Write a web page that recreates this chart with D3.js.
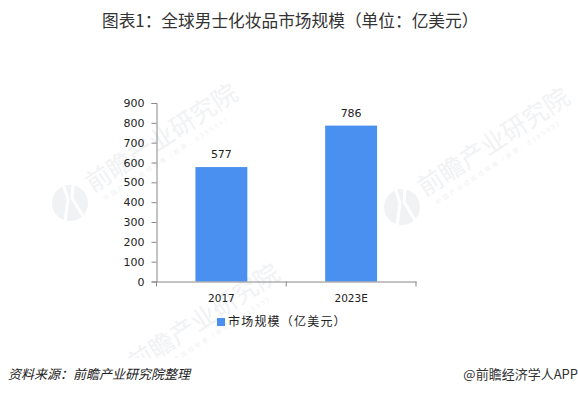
<!DOCTYPE html>
<html>
<head>
<meta charset="utf-8">
<script src="https://cdn.jsdelivr.net/npm/d3@7"></script>
<style>
    html, body { margin: 0; padding: 0; background: #fff; }
    svg { display: block; }
    text { font-family: "Noto Sans CJK SC", "DejaVu Sans", sans-serif; }
</style>
</head>
<body>
<div id="myPlot"></div>
<script>
const categories = ["2017", "2023E"];
const values = [577, 786];
const yTicks = [0, 100, 200, 300, 400, 500, 600, 700, 800, 900];
const titleText = "图表1：全球男士化妆品市场规模（单位：亿美元）";
const legendText = "市场规模（亿美元）";
const sourceText = "资料来源：前瞻产业研究院整理";
const brandText = "@前瞻经济学人APP";
const watermarkText = "前瞻产业研究院";
const watermarkSub = "中国产业咨询领导者（股票：839599）";

const width = 578;
const height = 395;
const margin = { top: 103, right: 162, bottom: 113.5, left: 156.5 };
const barColor = "#4a90f0";
const textColor = "#222";
const markColor = "#f0f2f4";

const svg = d3.select("#myPlot")
    .append("svg")
    .attr("width", width)
    .attr("height", height);

// Watermarks sit behind the chart, each one anchored on its logo centre
const marks = [
    { x: 70, y: 203 },
    { x: 402, y: 207 },
    { x: 112, y: 383 }
];
marks.forEach(m => {
    const g = svg.append("g").attr("transform", "translate(" + m.x + "," + m.y + ")");
    g.append("circle").attr("r", 18).attr("fill", markColor);
    // white cuts of the logo
    g.append("path")
        .attr("d", "M-7,-19 L-2,-4 L-5,19 M3,-19 L2,-5 L13,13")
        .attr("fill", "none")
        .attr("stroke", "#fff")
        .attr("stroke-width", 3);
    const t = g.append("g").attr("transform", "translate(23,-10) rotate(-33)");
    t.append("text")
        .attr("font-size", 25)
        .attr("fill", markColor)
        .text(watermarkText);
    t.append("text")
        .attr("x", 6)
        .attr("y", 13)
        .attr("font-size", 6)
        .attr("letter-spacing", 2.4)
        .attr("fill", markColor)
        .text(watermarkSub);
});

// Footer band hides the lower watermark
svg.append("rect")
    .attr("x", 0)
    .attr("y", 358)
    .attr("width", width)
    .attr("height", height - 358)
    .attr("fill", "#fff");

const plot = svg.append("g")
    .attr("transform", "translate(" + margin.left + "," + margin.top + ")");
const innerW = width - margin.left - margin.right;
const innerH = height - margin.top - margin.bottom;

const x = d3.scaleBand()
    .domain(categories)
    .range([0, innerW])
    .paddingInner(0.6)
    .paddingOuter(0.3);

const y = d3.scaleLinear()
    .domain([0, 900])
    .range([innerH, 0]);

// Bars
plot.selectAll("rect.bar")
    .data(values)
    .join("rect")
    .attr("class", "bar")
    .attr("x", (d, i) => x(categories[i]))
    .attr("y", d => y(d))
    .attr("width", x.bandwidth())
    .attr("height", d => y(0) - y(d))
    .attr("fill", barColor);

// Value labels
plot.selectAll("text.val")
    .data(values)
    .join("text")
    .attr("class", "val")
    .attr("x", (d, i) => x(categories[i]) + x.bandwidth() / 2)
    .attr("y", d => y(d) - 9)
    .attr("text-anchor", "middle")
    .attr("font-size", 11)
    .attr("fill", textColor)
    .style("font-family", "'DejaVu Sans'")
    .text(d => d);

// Y Axis
const yAxis = plot.append("g")
    .call(d3.axisLeft(y).tickValues(yTicks).tickSize(5).tickPadding(7));
yAxis.selectAll("text").attr("font-size", 11).attr("fill", textColor).style("font-family", "'DejaVu Sans'");

// X Axis, ticks sit between the categories
const xAxis = plot.append("g")
    .attr("transform", "translate(0," + innerH + ")")
    .call(d3.axisBottom(x).tickSize(0).tickPadding(13));
xAxis.selectAll("text").attr("font-size", 10.5).attr("fill", textColor).style("font-family", "'DejaVu Sans'");

const edges = [0, innerW / 2, innerW];
xAxis.selectAll("line.edge")
    .data(edges)
    .join("line")
    .attr("class", "edge")
    .attr("x1", d => d)
    .attr("x2", d => d)
    .attr("y1", 0)
    .attr("y2", 5)
    .attr("stroke", "#888");

svg.selectAll(".domain, .tick line").attr("stroke", "#888");

// Legend
svg.append("rect")
    .attr("x", 217)
    .attr("y", 318)
    .attr("width", 8)
    .attr("height", 8)
    .attr("fill", barColor);
svg.append("text")
    .attr("x", 228)
    .attr("y", 326)
    .attr("font-size", 12)
    .attr("letter-spacing", 1.2)
    .attr("fill", textColor)
    .text(legendText);

// Title
svg.append("text")
    .attr("x", 102)
    .attr("y", 26.5)
    .attr("font-size", 16.7)
    .attr("fill", "#333")
    .text(titleText);

// Footer
svg.append("text")
    .attr("x", 8)
    .attr("y", 379)
    .attr("font-size", 13)
    .attr("font-style", "italic")
    .attr("fill", "#222")
    .text(sourceText);
svg.append("text")
    .attr("x", 578)
    .attr("y", 379)
    .attr("text-anchor", "end")
    .attr("font-size", 13)
    .attr("fill", "#333")
    .text(brandText);
</script>
</body>
</html>
